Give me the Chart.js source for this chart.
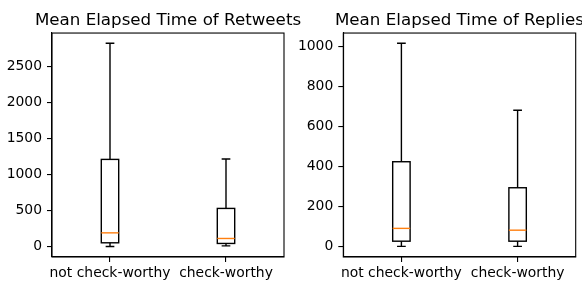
<!DOCTYPE html>
<html>
<head>
<meta charset="utf-8">
<script src="https://cdn.jsdelivr.net/npm/chart.js@4"></script>
<style>
  body { margin: 0; background: #fff; }
  #wrap { position: relative; width: 582px; height: 282px; overflow: hidden; }
  .panel { position: absolute; top: 0; }
</style>
</head>
<body>
<div id="wrap">
  <canvas id="graficoRetweets" class="panel" width="336" height="282" style="left:0"></canvas>
  <canvas id="graficoReplies" class="panel" width="337" height="282" style="left:291px"></canvas>
</div>
<script>
// Categorías y posiciones de las cajas
const categorias = ['not check-worthy', 'check-worthy'];
const posiciones = [1, 2];

// Retweets: bigote inferior, Q1, mediana, Q3, bigote superior
const rtBigoteInf = [5, 14];
const rtQ1 = [56, 47];
const rtMediana = [194, 116];
const rtQ3 = [1213, 533];
const rtBigoteSup = [2825, 1218];
const rtTicks = [0, 500, 1000, 1500, 2000, 2500];

// Replies
const reBigoteInf = [2, 2];
const reQ1 = [28, 28];
const reMediana = [92, 83];
const reQ3 = [425, 295];
const reBigoteSup = [1017, 682];
const reTicks = [0, 200, 400, 600, 800, 1000];

const fuente = 'DejaVu Sans';

// Plugin que dibuja las cajas usando las escalas del gráfico
const boxplotPlugin = {
    id: 'boxplot',
    afterDatasetsDraw(chart, args, opts) {
        const ctx = chart.ctx;
        const x = chart.scales.x;
        const y = chart.scales.y;
        const area = chart.chartArea;
        opts.posiciones.forEach((p, i) => {
            const xc = x.getPixelForValue(p);
            const xl = x.getPixelForValue(p - 0.075);
            const xr = x.getPixelForValue(p + 0.075);
            const cl = x.getPixelForValue(p - 0.0375);
            const cr = x.getPixelForValue(p + 0.0375);
            const yLo = y.getPixelForValue(opts.bigoteInf[i]);
            const yQ1 = y.getPixelForValue(opts.q1[i]);
            const yMed = y.getPixelForValue(opts.mediana[i]);
            const yQ3 = y.getPixelForValue(opts.q3[i]);
            const yHi = y.getPixelForValue(opts.bigoteSup[i]);
            ctx.save();
            ctx.strokeStyle = '#000';
            ctx.lineWidth = 1.4;
            // caja
            ctx.strokeRect(xl, yQ3, xr - xl, yQ1 - yQ3);
            // bigotes y topes
            ctx.beginPath();
            ctx.moveTo(xc, yQ1); ctx.lineTo(xc, yLo);
            ctx.moveTo(xc, yQ3); ctx.lineTo(xc, yHi);
            ctx.moveTo(cl, yLo); ctx.lineTo(cr, yLo);
            ctx.moveTo(cl, yHi); ctx.lineTo(cr, yHi);
            ctx.stroke();
            // mediana
            ctx.strokeStyle = '#ff7f0e';
            ctx.beginPath();
            ctx.moveTo(xl, yMed); ctx.lineTo(xr, yMed);
            ctx.stroke();
            ctx.restore();
        });
        // marco de los ejes
        ctx.save();
        ctx.strokeStyle = '#000';
        ctx.lineWidth = 1.1;
        ctx.strokeRect(area.left, area.top, area.right - area.left, area.bottom - area.top);
        ctx.restore();
    }
};

function crearGrafico(id, titulo, datos, ticksY, minY, maxY, anchoY, margenDer) {
    const ctx = document.getElementById(id).getContext('2d');
    return new Chart(ctx, {
        type: 'scatter',
        data: {
            datasets: [{
                data: posiciones.map((p, i) => ({ x: p, y: datos.mediana[i] })),
                pointRadius: 0
            }]
        },
        options: {
            responsive: false,
            animation: false,
            events: [],
            scales: {
                x: {
                    type: 'linear',
                    min: 0.5,
                    max: 2.5,
                    afterFit: s => { s.height = 25; },
                    afterBuildTicks: s => { s.ticks = posiciones.map(v => ({ value: v })); },
                    grid: { drawOnChartArea: false, drawTicks: true, tickLength: 5, color: '#000', lineWidth: 1.1 },
                    border: { display: true, color: '#000', width: 1.1 },
                    ticks: {
                        padding: 3,
                        color: '#000',
                        font: { family: fuente, size: 13.9 },
                        maxRotation: 0,
                        callback: v => categorias[posiciones.indexOf(v)]
                    }
                },
                y: {
                    min: minY,
                    max: maxY,
                    afterFit: s => { s.width = anchoY; },
                    afterBuildTicks: s => { s.ticks = ticksY.map(v => ({ value: v })); },
                    grid: { drawOnChartArea: false, drawTicks: true, tickLength: 5, color: '#000', lineWidth: 1.1 },
                    border: { display: true, color: '#000', width: 1.1 },
                    ticks: {
                        padding: 5,
                        color: '#000',
                        font: { family: fuente, size: 13.9 },
                        callback: v => String(v)
                    }
                },
                // eje vacío a la derecha para dejar el margen sin mover el título
                margen: {
                    type: 'linear',
                    position: 'right',
                    display: true,
                    afterFit: s => { s.width = margenDer; },
                    grid: { display: false },
                    border: { display: false },
                    ticks: { display: false }
                }
            },
            plugins: {
                legend: { display: false },
                tooltip: { enabled: false },
                title: {
                    display: true,
                    text: titulo,
                    color: '#000',
                    font: { family: fuente, size: 16.7, weight: 'normal', lineHeight: 1.2 },
                    padding: { top: 11, bottom: 2 }
                },
                boxplot: {
                    posiciones: posiciones,
                    bigoteInf: datos.bigoteInf,
                    q1: datos.q1,
                    mediana: datos.mediana,
                    q3: datos.q3,
                    bigoteSup: datos.bigoteSup
                }
            }
        },
        plugins: [boxplotPlugin]
    });
}

document.addEventListener('DOMContentLoaded', () => {
    crearGrafico('graficoRetweets', 'Mean Elapsed Time of Retweets',
        { bigoteInf: rtBigoteInf, q1: rtQ1, mediana: rtMediana, q3: rtQ3, bigoteSup: rtBigoteSup },
        rtTicks, -141, 2966, 52, 52);
    crearGrafico('graficoReplies', 'Mean Elapsed Time of Replies',
        { bigoteInf: reBigoteInf, q1: reQ1, mediana: reMediana, q3: reQ3, bigoteSup: reBigoteSup },
        reTicks, -51, 1068, 52.3, 52.3);
});
</script>
</body>
</html>
